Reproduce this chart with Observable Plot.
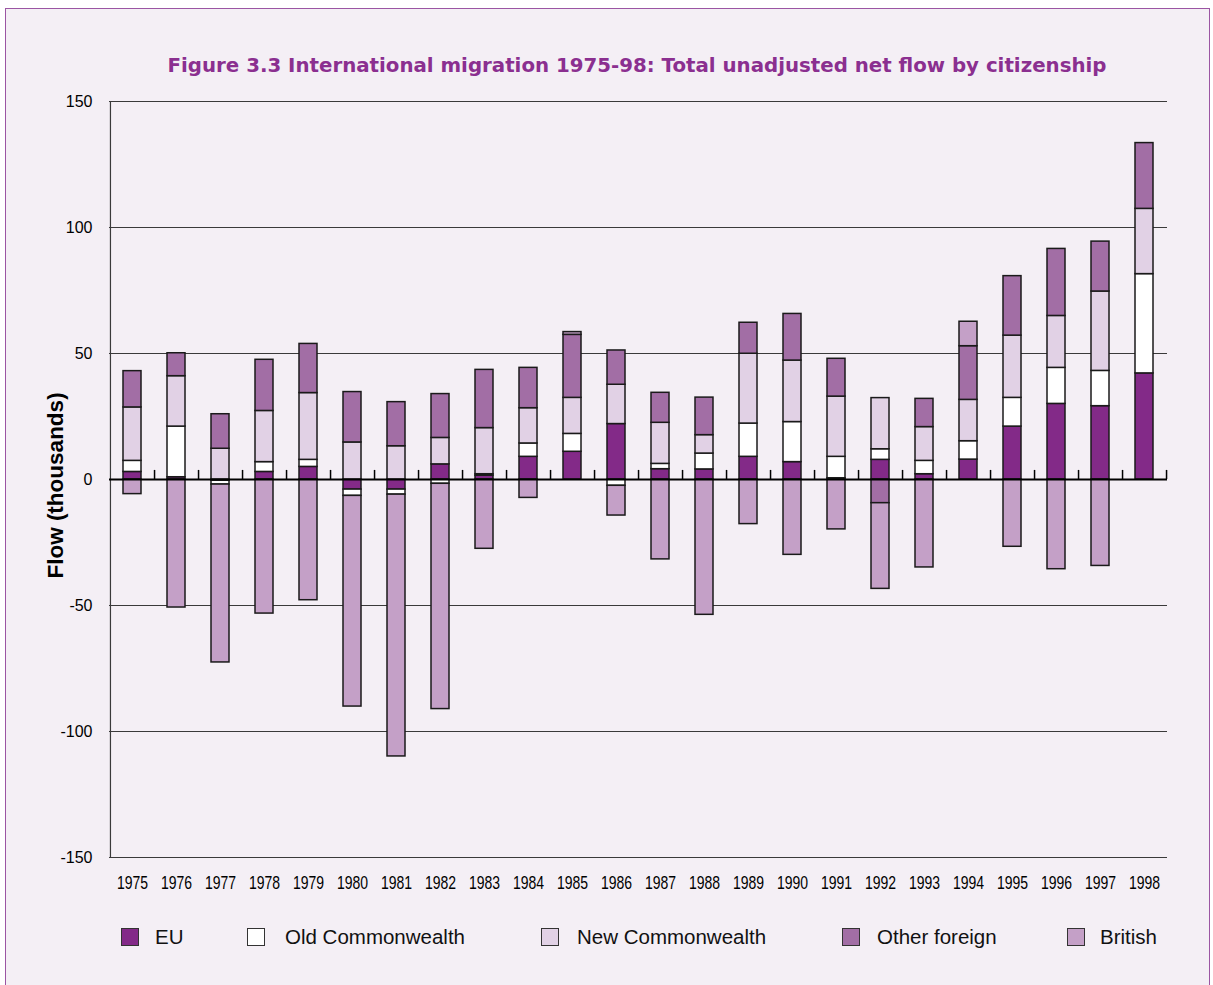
<!DOCTYPE html>
<html>
<head>
<meta charset="utf-8">
<script src="https://cdn.jsdelivr.net/npm/d3@7"></script>
<script src="https://cdn.jsdelivr.net/npm/@observablehq/plot@0.6"></script>
<style>
  body { margin: 0; background: #ffffff; width: 1213px; height: 985px; overflow: hidden; position: relative; font-family: "Liberation Sans", Arial, sans-serif; }
  #frame { position: absolute; left: 5px; top: 8px; width: 1203px; height: 1000px; background: #f4eff5; border: 1px solid #9b55a3; }
  #title { position: absolute; top: 54px; left: 637px; transform: translateX(-50%); white-space: nowrap; font-family: "DejaVu Sans", Verdana, sans-serif; font-weight: bold; font-size: 19.8px; line-height: 24px; color: #8b2f90; }
  #chart { position: absolute; left: 0; top: 0; }
  .sw { position: absolute; width: 16px; height: 16px; border: 1.5px solid #333; box-sizing: content-box; }
  .lt { position: absolute; font-size: 20.5px; line-height: 22px; color: #111; white-space: nowrap; }
</style>
</head>
<body>
<div id="frame"></div>
<div id="title"></div>
<div id="chart"></div>
<div id="legend"></div>
<script>
const titleText = "Figure 3.3 International migration 1975-98: Total unadjusted net flow by citizenship";
const yLabel = "Flow (thousands)";
const years = ["1975","1976","1977","1978","1979","1980","1981","1982","1983","1984","1985","1986","1987","1988","1989","1990","1991","1992","1993","1994","1995","1996","1997","1998"];
const series = ["EU", "Old Commonwealth", "New Commonwealth", "Other foreign", "British"];
const colors = ["#832a88", "#ffffff", "#e1d1e5", "#a26ea5", "#c4a0c7"];
const yTicks = [-150, -100, -50, 0, 50, 100, 150];

const eu =              [3.0, 0.9, -0.5, 3.0, 5.0, -4.0, -4.0, 6.0, 1.5, 9.0, 11.0, 22.0, 4.1, 4.0, 9.0, 6.9, 0.5, 7.8, 2.1, 7.9, 21.0, 30.0, 29.1, 42.1];
const oldCommonwealth = [4.4, 20.1, -1.5, 3.9, 2.8, -2.5, -2.0, -1.7, 0.6, 5.3, 7.1, -2.5, 2.1, 6.3, 13.2, 15.9, 8.5, 4.2, 5.3, 7.3, 11.4, 14.3, 14.0, 39.4];
const newCommonwealth = [21.2, 20.0, 12.2, 20.3, 26.5, 14.7, 13.2, 10.5, 18.3, 14.0, 14.3, 15.6, 16.3, 7.3, 27.7, 24.4, 23.9, 20.3, 13.4, 16.4, 24.7, 20.6, 31.5, 25.9];
const otherForeign =    [14.4, 9.1, 13.7, 20.3, 19.5, 20.0, 17.5, 17.4, 23.1, 16.0, 25.0, 13.6, 11.9, 14.9, 12.3, 18.5, 15.0, -9.4, 11.2, 21.3, 23.6, 26.6, 19.8, 26.1];
const british =         [-5.8, -50.8, -70.6, -53.2, -47.9, -83.6, -103.9, -89.4, -27.5, -7.3, 1.1, -11.8, -31.7, -53.7, -17.7, -29.9, -19.8, -34.0, -34.9, 9.7, -26.7, -35.6, -34.3, 0];

const values = [eu, oldCommonwealth, newCommonwealth, otherForeign, british];
const data = years.flatMap((yr, i) => series.map((s, j) => ({year: yr, series: s, value: values[j][i]})))
  .filter(d => d.value !== 0);

document.getElementById("title").textContent = titleText;

const W = 1213, mL = 109, mR = 46;
const halfStep = (W - mL - mR) / years.length / 2;

const chart = Plot.plot({
  width: W,
  height: 900,
  marginTop: 101,
  marginBottom: 43,
  marginLeft: mL,
  marginRight: mR,
  style: {background: "transparent", fontFamily: "'Liberation Sans', Arial, sans-serif", color: "#000", overflow: "visible"},
  x: {type: "band", domain: years, paddingInner: 0.59, paddingOuter: 0.295, label: null},
  y: {domain: [-150, 150], label: null},
  color: {domain: series, range: colors},
  marks: [
    Plot.ruleY(yTicks.filter(t => t !== 0), {stroke: "#3a3a3a", strokeWidth: 1.2}),
    Plot.ruleX([years[0]], {dx: -halfStep, y1: -150, y2: 150, stroke: "#3a3a3a", strokeWidth: 1.2}),
    Plot.ruleX(years, {dx: halfStep, y1: 0, y2: 3.6, stroke: "#000", strokeWidth: 1.5}),
    Plot.barY(data, Plot.stackY({x: "year", y: "value", fill: "series", stroke: "#1a1a1a", strokeWidth: 1.5})),
    Plot.ruleY([0], {stroke: "#000", strokeWidth: 2}),
    Plot.axisY({ticks: yTicks, tickSize: 0, tickPadding: 17, fontSize: 16, tickFormat: d => String(d), label: null}),
    Plot.axisX({tickSize: 0, tickPadding: 19, fontSize: 17.5, label: null}),
    Plot.text([yLabel], {text: d => d, frameAnchor: "left", dx: -54, dy: 6, rotate: -90, textAnchor: "middle", fontSize: 22.5, fontWeight: "bold", fill: "#000"})
  ]
});
// condense the year labels horizontally, like the narrow face of the original
d3.select(chart).selectAll("g").filter(function() {
  return (this.getAttribute("aria-label") || "").includes("x-axis tick label");
}).selectAll("text").each(function() {
  const t = this.getAttribute("transform");
  if (t) {
    this.setAttribute("transform", t + " scale(0.8,1)");
  } else {
    const x = this.getAttribute("x") || 0, y = this.getAttribute("y") || 0;
    this.removeAttribute("x");
    this.removeAttribute("y");
    this.setAttribute("transform", `translate(${x},${y}) scale(0.8,1)`);
  }
});
document.getElementById("chart").appendChild(chart);

const swLeft = [121, 247, 541, 842, 1067];
const txLeft = [155, 285, 577, 877, 1100];
const legend = document.getElementById("legend");
series.forEach((s, i) => {
  const sw = document.createElement("div");
  sw.className = "sw";
  sw.style.left = swLeft[i] + "px";
  sw.style.top = "928px";
  sw.style.background = colors[i];
  legend.appendChild(sw);
  const t = document.createElement("div");
  t.className = "lt";
  t.style.left = txLeft[i] + "px";
  t.style.top = "926px";
  t.textContent = s;
  legend.appendChild(t);
});
</script>
</body>
</html>
